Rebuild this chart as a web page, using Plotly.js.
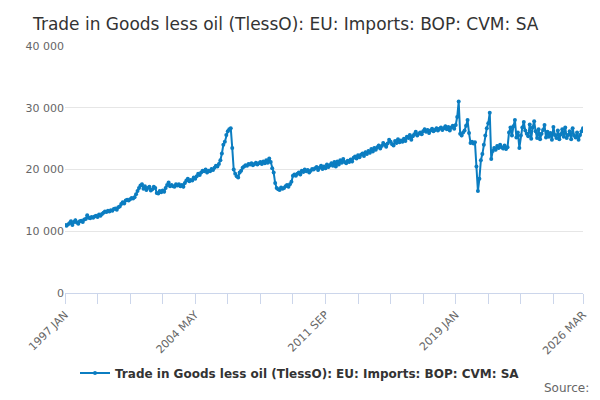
<!DOCTYPE html>
<html>
<head>
<meta charset="utf-8">
<script src="https://cdn.plot.ly/plotly-3.0.1.min.js"></script>
<style>body{margin:0;}#chart{width:600px;height:400px;}</style>
</head>
<body>
<div id="chart"></div>
<script>
// monthly values, 1997 JAN .. 2026 MAR
const values = [
  11000, 10900, 11100, 11300, 11600, 11000, 11500, 11800, 11400, 11200, 11600, 11700,
  11500, 11900, 12000, 12600, 12200, 12100, 12300, 12200, 12400, 12500, 12300, 12700,
  12500, 12800, 13000, 13200, 13100, 13300, 13200, 13400, 13300, 13600, 13700, 13500,
  13900, 14000, 14400, 14700, 14500, 15000, 15100, 15000, 15200, 15400, 15300, 15500,
  16000, 16500, 17000, 17400, 17600, 16900, 17300, 16700, 17000, 17200, 16600, 16800,
  17200, 17000, 16200, 16100, 16500, 16300, 16600, 16400, 17000, 17500, 17900, 17300,
  17500, 17300, 17200, 17600, 17400, 17600, 17300, 17500, 17200, 17800, 18200, 18500,
  18100, 18300, 18200, 18700, 18500, 18900, 19300, 19100, 19500, 19800, 19700, 20000,
  19500, 19800, 19700, 20100, 19900, 20300, 20600, 20500, 20900, 21500, 22600, 24000,
  24500, 25600, 26200, 26500, 26700, 23500, 20000, 19300, 18900, 18700, 19500, 19800,
  20300, 20500, 20700, 20600, 20900, 20800, 21000, 20700, 20900, 21100, 20800, 21000,
  21200, 20900, 21300, 21000, 21500, 21100, 21800, 21200, 20200, 19500, 17800, 17000,
  16800, 16700, 17100, 16900, 17000, 17300, 17500, 17200, 17600, 18000, 19000, 19200,
  19000, 19300, 19500, 19200, 19800, 19600, 20000, 19700, 19900, 19500, 19800, 20100,
  20000, 20200, 20400, 19900, 20300, 20600, 20100, 20500, 20200, 20800, 20400, 20700,
  21000, 20600, 21200, 20500, 21300, 20800, 21500, 21100, 21700, 21200, 21000, 21400,
  21200, 21600, 21300, 21900, 22100, 21800, 22300, 22000, 22400, 22600, 22200, 22800,
  22500, 23000, 22700, 23300, 22900, 23500, 23200, 23600, 23900, 23400, 23800, 24300,
  24000, 23700, 24200, 24800, 24500, 24100, 23900, 24600, 24300, 24900, 24400, 24700,
  24500, 25000, 24600, 25300, 25100, 25600, 24800, 25400, 25700, 26100, 25500, 25800,
  26000, 25700, 26200, 26500, 26100, 26400, 25900, 26300, 26600, 26200, 26400, 26700,
  26300, 26600, 26800, 26400, 26700, 27000, 26500, 26900, 26300, 26800, 27100, 26600,
  27200, 28500, 31000, 25800, 25500, 26000, 26300, 27100, 28000, 25900, 24300, 24500,
  24200, 24400, 20500, 16500, 18500, 21500, 22500, 24000, 25500, 26700, 27500, 29200,
  21700, 23000, 23500, 23200, 23800, 23500, 24000, 23600, 23400, 23900, 23300, 23600,
  26000, 26800, 25500, 27000, 28000, 25200, 26000, 23500, 25500, 26800, 27700, 26300,
  25800, 25400, 27300, 25000, 26800, 27800, 26200, 25100, 26500, 24900, 25800, 26400,
  27200, 25200, 26100, 25300, 25900, 24800, 26900, 25600, 25100, 26300, 24900, 25700,
  26500, 25300, 26800, 25100, 25600, 26200, 24900, 26700, 25500, 25200, 26000, 24800,
  25600, 26200, 26700
];
const tickPos = [0, 22, 44, 66, 88, 110, 132, 154, 176, 198, 220, 242, 264, 286, 308, 330, 350];
const tickLabels = ['1997 JAN', '', '', '', '2004 MAY', '', '', '', '2011 SEP', '', '', '', '2019 JAN', '', '', '', '2026 MAR'];

const months = values.map((v, i) => i);

const data = [{
  x: months,
  y: values,
  type: 'scatter',
  mode: 'lines+markers',
  name: '<b>Trade in Goods less oil (TlessO): EU: Imports: BOP: CVM: SA</b>',
  line: { color: '#0b7dc1', width: 2 },
  marker: { color: '#0b7dc1', size: 4 },
}];

const layout = {
  width: 600,
  height: 400,
  margin: { l: 65, r: 17, t: 46, b: 107 },
  paper_bgcolor: '#fff',
  plot_bgcolor: '#fff',
  separators: '. ',
  font: { family: 'DejaVu Sans, sans-serif', color: '#666', size: 11 },
  title: {
    text: 'Trade in Goods less oil (TlessO): EU: Imports: BOP: CVM: SA',
    x: 0.055, xanchor: 'left', y: 0.955,
    font: { size: 17, color: '#333' },
  },
  xaxis: {
    range: [0, 350],
    tickvals: tickPos,
    ticktext: tickLabels,
    tickangle: -45,
    ticks: 'outside',
    ticklen: 10,
    tickcolor: '#ccd6eb',
    showline: true,
    linecolor: '#ccd6eb',
    showgrid: false,
    zeroline: false,
    automargin: false,
  },
  yaxis: {
    range: [0, 40000],
    tickvals: [0, 10000, 20000, 30000, 40000],
    tickformat: ',',
    gridcolor: '#e6e6e6',
    zeroline: false,
    automargin: false,
  },
  showlegend: true,
  legend: {
    orientation: 'h', x: 0.5, xref: 'container', xanchor: 'center',
    y: 0.0675, yref: 'container', yanchor: 'middle',
    font: { size: 12, color: '#333', family: 'DejaVu Sans, sans-serif' },
  },
  annotations: [{
    text: 'Source:', xref: 'paper', yref: 'paper', x: 1.015, y: -0.385,
    xanchor: 'right', yanchor: 'middle', showarrow: false,
    font: { size: 12, color: '#666' },
  }],
};

Plotly.newPlot('chart', data, layout, { displayModeBar: false });
</script>
</body>
</html>
